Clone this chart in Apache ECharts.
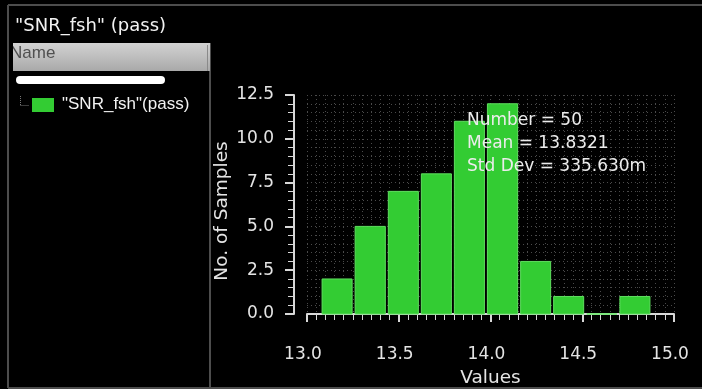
<!DOCTYPE html>
<html>
<head>
<meta charset="utf-8">
<script src="https://cdn.jsdelivr.net/npm/echarts@6/dist/echarts.min.js"></script>
<style>
  html, body { margin: 0; padding: 0; background: #000; }
  #chart { width: 702px; height: 389px; }
</style>
</head>
<body>
<div id="chart"></div>
<script>
// Histogram bins: edges of each bin and the number of samples in it
const binEdges = [13.074, 13.254, 13.435, 13.615, 13.795, 13.975, 14.156, 14.336, 14.516, 14.697, 14.877];
const binCounts = [2, 5, 7, 8, 11, 12, 3, 1, 0, 1];

// Summary statistics shown in the plot
const statLines = ['Number = 50', 'Mean = 13.8321', 'Std Dev = 335.630m'];

const testName = '"SNR_fsh" (pass)';
const itemName = '"SNR_fsh"(pass)';

const barData = binCounts.map((c, i) => [binEdges[i], binEdges[i + 1], c]);

const chart = echarts.init(document.getElementById('chart'), null, { renderer: 'canvas' });

const axisGray = '#d8d8d8';
const textGray = '#e4e4e4';
const dotLine = { color: '#4a4a4a', width: 1, type: [1, 3] };
const plotFont = 'DejaVu Sans';

chart.setOption({
  backgroundColor: '#000',
  animation: false,
  grid: { left: 307, right: 28, top: 95, bottom: 75, containLabel: false, outerBoundsMode: 'none' },
  xAxis: {
    type: 'value',
    min: 13, max: 15, interval: 0.5,
    offset: 9,
    name: 'Values',
    nameLocation: 'middle',
    nameGap: 46,
    nameMoveOverlap: false,
    nameTextStyle: { color: textGray, fontFamily: plotFont, fontSize: 18.5 },
    axisLine: { show: true, lineStyle: { color: axisGray, width: 2 } },
    axisTick: { show: true, length: 8, lineStyle: { color: axisGray, width: 2 } },
    minorTick: { show: true, splitNumber: 10, length: 6, lineStyle: { color: axisGray, width: 1 } },
    axisLabel: {
      color: textGray, fontFamily: plotFont, fontSize: 17, margin: 23,
      padding: [0, 8, 0, 0],
      formatter: v => v.toFixed(1)
    },
    splitLine: { show: true, lineStyle: dotLine },
    minorSplitLine: { show: true, lineStyle: dotLine }
  },
  yAxis: {
    type: 'value',
    min: 0, max: 12.5, interval: 2.5,
    offset: 13,
    name: 'No. of Samples',
    nameLocation: 'middle',
    nameGap: 62,
    nameMoveOverlap: false,
    nameTextStyle: { color: textGray, fontFamily: plotFont, fontSize: 18.5, padding: [0, 13, 0, 0] },
    axisLine: { show: true, lineStyle: { color: axisGray, width: 2 } },
    axisTick: { show: true, length: 9, lineStyle: { color: axisGray, width: 2 } },
    minorTick: { show: true, splitNumber: 5, length: 6, lineStyle: { color: axisGray, width: 1 } },
    axisLabel: {
      color: textGray, fontFamily: plotFont, fontSize: 17, margin: 20,
      formatter: v => v.toFixed(1)
    },
    splitLine: { show: true, lineStyle: dotLine },
    minorSplitLine: { show: true, lineStyle: dotLine }
  },
  series: [{
    type: 'custom',
    data: barData,
    encode: { x: [0, 1], y: 2 },
    renderItem: function (params, api) {
      const p0 = api.coord([api.value(0), api.value(2)]);
      const p1 = api.coord([api.value(1), 0]);
      const gap = 1.5;
      const h = p1[1] - p0[1];
      return {
        type: 'rect',
        shape: { x: p0[0] + gap, y: p0[1], width: p1[0] - p0[0] - 2 * gap, height: h },
        style: {
          fill: '#33cc33',
          stroke: h > 0 ? '#5fdf5f' : '#7ee87e',
          lineWidth: h > 0 ? 1 : 2
        }
      };
    },
    z: 5
  }],
  graphic: [
    // outer frame
    { type: 'line', shape: { x1: 8, y1: 5, x2: 702, y2: 5 }, style: { stroke: '#4d4d4d', lineWidth: 2 } },
    { type: 'line', shape: { x1: 8, y1: 5, x2: 8, y2: 388 }, style: { stroke: '#4d4d4d', lineWidth: 2 } },
    { type: 'line', shape: { x1: 8, y1: 388, x2: 702, y2: 388 }, style: { stroke: '#4d4d4d', lineWidth: 2 } },
    { type: 'line', shape: { x1: 210, y1: 43, x2: 210, y2: 388 }, style: { stroke: '#4d4d4d', lineWidth: 2 } },
    // test title
    { type: 'text', left: 15, top: 17, style: { text: testName, fill: '#f2f2f2', font: '18px "DejaVu Sans", sans-serif' } },
    // name column header
    {
      type: 'rect', shape: { x: 13, y: 43, width: 197, height: 28 },
      style: {
        fill: new echarts.graphic.LinearGradient(0, 0, 0, 1, [
          { offset: 0, color: '#d2d2d2' }, { offset: 1, color: '#a9a9a9' }
        ])
      }
    },
    { type: 'line', shape: { x1: 207.5, y1: 45, x2: 207.5, y2: 71 }, style: { stroke: '#8a8a8a', lineWidth: 1 } },
    { type: 'text', left: 10, top: 45, style: { text: 'Name', fill: '#505050', font: '17px "Liberation Sans", Arial, sans-serif' } },
    { type: 'rect', shape: { x: 9, y: 43, width: 4, height: 28 }, style: { fill: '#000' } },
    // tree row
    { type: 'rect', shape: { x: 16, y: 76, width: 149, height: 8, r: 4 }, style: { fill: '#ffffff' } },
    { type: 'line', shape: { x1: 20.5, y1: 96, x2: 20.5, y2: 105.5 }, style: { stroke: '#777', lineWidth: 1, lineDash: [1, 1] } },
    { type: 'line', shape: { x1: 20.5, y1: 105.5, x2: 29, y2: 105.5 }, style: { stroke: '#777', lineWidth: 1, lineDash: [1, 1] } },
    { type: 'rect', shape: { x: 32, y: 98, width: 22, height: 14 }, style: { fill: '#33cc33' } },
    { type: 'text', left: 62, top: 96, style: { text: itemName, fill: '#f2f2f2', font: '17px "Liberation Sans", Arial, sans-serif' } },
    // summary statistics
    {
      type: 'text', left: 467, top: 109, z: 100,
      style: { text: statLines.join('\n'), fill: '#ececec', font: '17px "DejaVu Sans"', lineHeight: 23 }
    }
  ]
});
</script>
</body>
</html>
